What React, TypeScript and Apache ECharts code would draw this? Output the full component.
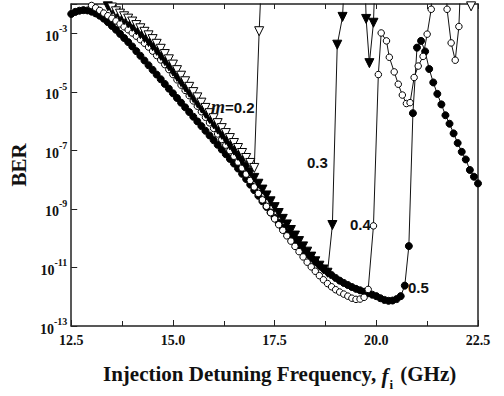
import React, { useEffect, useRef } from "react";
import * as echarts from "echarts";

// BER values stored as log10(BER); frequency in GHz
const m02: [number, number][] = [
  [13.5, -2.12], [13.6, -2.25], [13.7, -2.33], [13.8, -2.42], [13.9, -2.5], [14.0, -2.6],
  [14.1, -2.72], [14.2, -2.83], [14.3, -2.95], [14.4, -3.07], [14.5, -3.2], [14.6, -3.36],
  [14.7, -3.53], [14.8, -3.71], [14.9, -3.89], [15.0, -4.07], [15.1, -4.26], [15.2, -4.45],
  [15.3, -4.64], [15.4, -4.83], [15.5, -5.01], [15.6, -5.19], [15.7, -5.37], [15.8, -5.55],
  [15.9, -5.73], [16.0, -5.9], [16.1, -6.07], [16.2, -6.24], [16.3, -6.41], [16.4, -6.58],
  [16.5, -6.75], [16.6, -6.92], [16.7, -7.09], [16.8, -7.26], [16.9, -7.43], [17.0, -7.6],
  [17.12, -2.93], [17.18, -1.0], [22.25, -1.0], [22.33, -2.08], [22.42, -1.0],
];

const m03: [number, number][] = [
  [13.3, -1.95], [13.4, -2.08], [13.5, -2.2], [13.6, -2.32], [13.7, -2.44], [13.8, -2.55],
  [13.9, -2.66], [14.0, -2.78], [14.1, -2.9], [14.2, -3.03], [14.3, -3.16], [14.4, -3.3],
  [14.5, -3.44], [14.6, -3.6], [14.7, -3.77], [14.8, -3.95], [14.9, -4.13], [15.0, -4.31],
  [15.1, -4.49], [15.2, -4.67], [15.3, -4.85], [15.4, -5.03], [15.5, -5.21], [15.6, -5.39],
  [15.7, -5.57], [15.8, -5.75], [15.9, -5.93], [16.0, -6.11], [16.1, -6.29], [16.2, -6.47],
  [16.3, -6.65], [16.4, -6.83], [16.5, -7.01], [16.6, -7.19], [16.7, -7.37], [16.8, -7.56],
  [16.9, -7.75], [17.0, -7.94], [17.1, -8.14], [17.2, -8.34], [17.3, -8.54], [17.4, -8.74],
  [17.5, -8.94], [17.6, -9.14], [17.7, -9.34], [17.8, -9.53], [17.9, -9.72], [18.0, -9.91],
  [18.1, -10.1], [18.2, -10.28], [18.3, -10.46], [18.4, -10.63], [18.5, -10.79], [18.6, -10.94],
  [18.7, -11.07], [18.8, -11.18], [18.92, -9.55], [19.04, -3.39], [19.17, -2.44], [19.22, -1.0],
  [19.72, -1.0], [19.75, -2.51], [19.83, -4.02], [19.93, -2.64], [19.97, -1.0],
];

const m04: [number, number][] = [
  [12.9, -1.9], [13.0, -2.05], [13.1, -2.13], [13.2, -2.22], [13.3, -2.31], [13.4, -2.4],
  [13.5, -2.49], [13.6, -2.58], [13.7, -2.68], [13.8, -2.78], [13.9, -2.88], [14.0, -2.99],
  [14.1, -3.1], [14.2, -3.22], [14.3, -3.34], [14.4, -3.47], [14.5, -3.61], [14.6, -3.76],
  [14.7, -3.91], [14.8, -4.07], [14.9, -4.24], [15.0, -4.41], [15.1, -4.59], [15.2, -4.77],
  [15.3, -4.95], [15.4, -5.13], [15.5, -5.31], [15.6, -5.49], [15.7, -5.68], [15.8, -5.87],
  [15.9, -6.06], [16.0, -6.25], [16.1, -6.44], [16.2, -6.63], [16.3, -6.82], [16.4, -7.01],
  [16.5, -7.2], [16.6, -7.4], [16.7, -7.6], [16.8, -7.81], [16.9, -8.03], [17.0, -8.25],
  [17.1, -8.47], [17.2, -8.69], [17.3, -8.91], [17.4, -9.13], [17.5, -9.34], [17.6, -9.54],
  [17.7, -9.73], [17.8, -9.92], [17.9, -10.1], [18.0, -10.28], [18.1, -10.46], [18.2, -10.64],
  [18.3, -10.82], [18.4, -10.98], [18.5, -11.13], [18.6, -11.28], [18.7, -11.42], [18.8, -11.55],
  [18.9, -11.66], [19.0, -11.76], [19.1, -11.84], [19.2, -11.91], [19.3, -11.98], [19.4, -12.05],
  [19.5, -12.09], [19.6, -12.08], [19.7, -12.02], [19.8, -11.75], [19.93, -9.58], [20.05, -4.41],
  [20.12, -2.99], [20.25, -3.26], [20.32, -3.82], [20.44, -4.32], [20.54, -4.74], [20.64, -5.11],
  [20.74, -5.4], [20.83, -5.37], [20.93, -4.51], [21.03, -4.12], [21.15, -3.79], [21.25, -3.03],
  [21.35, -2.18], [21.38, -1.0], [21.71, -1.0], [21.74, -2.18], [21.84, -3.33], [21.94, -3.92],
  [22.03, -2.77], [22.08, -1.0],
];

const m05: [number, number][] = [
  [12.5, -2.34], [12.6, -2.27], [12.7, -2.23], [12.8, -2.21], [12.9, -2.22], [13.0, -2.26],
  [13.1, -2.32], [13.2, -2.4], [13.3, -2.5], [13.4, -2.62], [13.5, -2.75], [13.6, -2.88],
  [13.7, -3.02], [13.8, -3.16], [13.9, -3.3], [14.0, -3.45], [14.1, -3.61], [14.2, -3.77],
  [14.3, -3.93], [14.4, -4.09], [14.5, -4.25], [14.6, -4.41], [14.7, -4.57], [14.8, -4.73],
  [14.9, -4.89], [15.0, -5.05], [15.1, -5.21], [15.2, -5.37], [15.3, -5.53], [15.4, -5.69],
  [15.5, -5.85], [15.6, -6.01], [15.7, -6.17], [15.8, -6.33], [15.9, -6.49], [16.0, -6.65],
  [16.1, -6.81], [16.2, -6.97], [16.3, -7.13], [16.4, -7.29], [16.5, -7.45], [16.6, -7.62],
  [16.7, -7.8], [16.8, -7.98], [16.9, -8.17], [17.0, -8.36], [17.1, -8.55], [17.2, -8.74],
  [17.3, -8.93], [17.4, -9.12], [17.5, -9.3], [17.6, -9.47], [17.7, -9.64], [17.8, -9.8],
  [17.9, -9.96], [18.0, -10.11], [18.1, -10.26], [18.2, -10.4], [18.3, -10.54], [18.4, -10.67],
  [18.5, -10.8], [18.6, -10.92], [18.7, -11.04], [18.8, -11.15], [18.9, -11.26], [19.0, -11.36],
  [19.1, -11.45], [19.2, -11.53], [19.3, -11.6], [19.4, -11.67], [19.5, -11.73], [19.6, -11.78],
  [19.7, -11.83], [19.8, -11.88], [19.9, -11.93], [20.0, -11.98], [20.1, -12.05], [20.2, -12.11],
  [20.3, -12.14], [20.4, -12.13], [20.5, -12.08], [20.6, -11.98], [20.7, -11.62], [20.8, -10.27],
  [20.9, -5.73], [21.0, -3.49], [21.1, -3.26], [21.2, -3.62], [21.3, -4.22], [21.4, -4.68],
  [21.5, -5.07], [21.6, -5.43], [21.7, -5.8], [21.8, -6.09], [21.9, -6.42], [22.0, -6.75],
  [22.1, -7.05], [22.2, -7.31], [22.3, -7.67], [22.4, -7.9], [22.5, -8.13],
];

const xTickLabels = ["12.5", "15.0", "17.5", "20.0", "22.5"];
const yExponents = [-13, -11, -9, -7, -5, -3];
const curveLabels = ["m=0.2", "0.3", "0.4", "0.5"];

const toBer = (d: [number, number][]) => d.map(([f, e]) => [f, Math.pow(10, e)]);

const serif = "'Liberation Serif', 'Times New Roman', serif";
const sans = "'Liberation Sans', Arial, sans-serif";
const axisColor = "#222";

export default function App() {
  const ref = useRef<HTMLDivElement>(null);
  useEffect(() => {
    if (!ref.current) return;
    const chart = echarts.init(ref.current, null, { renderer: "svg" });
    const lineStyle = { color: "#111", width: 1 };
    const mk = (name: string, data: [number, number][], symbol: string, filled: boolean, size: number, rotate: number) => ({
      name,
      type: "line",
      data: toBer(data),
      symbol,
      symbolSize: size,
      symbolRotate: rotate,
      showAllSymbol: true,
      clip: true,
      lineStyle,
      itemStyle: { color: filled ? "#000" : "#fff", borderColor: "#000", borderWidth: 1 },
      emphasis: { disabled: true },
    });
    chart.setOption({
      animation: false,
      backgroundColor: "#fff",
      textStyle: { fontFamily: serif },
      grid: { left: 70, right: 26, top: 4, bottom: 58 },
      xAxis: [
        {
          type: "value",
          min: 12.5,
          max: 22.5,
          interval: 2.5,
          axisLine: { lineStyle: { color: axisColor, width: 1.5 } },
          axisTick: { inside: true, length: 6, lineStyle: { color: axisColor, width: 1 } },
          minorTick: { show: true, splitNumber: 2, length: 5, lineStyle: { color: axisColor, width: 1 } },
          splitLine: { show: false },
          axisLabel: {
            margin: 7,
            fontFamily: serif,
            fontWeight: "bold",
            fontSize: 14,
            color: "#111",
            formatter: (v: number) => {
              const s = v.toFixed(1);
              return xTickLabels.includes(s) ? s : "";
            },
          },
          name: "Injection Detuning Frequency, {i|f}{s|i} (GHz)",
          nameLocation: "middle",
          nameGap: 36,
          nameTextStyle: {
            fontFamily: serif,
            fontSize: 21,
            fontWeight: "bold",
            color: "#111",
            padding: [0, 0, 0, 10],
            rich: {
              i: { fontFamily: serif, fontSize: 21, fontWeight: "bold", fontStyle: "italic", color: "#111", verticalAlign: "bottom", lineHeight: 24 },
              s: { fontFamily: serif, fontSize: 13, fontWeight: "bold", color: "#111", verticalAlign: "bottom", lineHeight: 24, padding: [0, 2, -5, 1] },
            },
          },
        },
        {
          type: "value",
          position: "top",
          min: 12.5,
          max: 22.5,
          interval: 2.5,
          axisLine: { show: true, lineStyle: { color: axisColor, width: 1.5 } },
          axisTick: { inside: true, length: 5, lineStyle: { color: axisColor } },
          minorTick: { show: true, splitNumber: 2, length: 5, lineStyle: { color: axisColor } },
          axisLabel: { show: false },
          splitLine: { show: false },
        },
      ],
      yAxis: [
        {
          type: "log",
          logBase: 10,
          min: 1e-13,
          max: 1e-2,
          interval: 2,
          axisLine: { show: true, lineStyle: { color: axisColor, width: 1.5 } },
          axisTick: { inside: true, length: 6, lineStyle: { color: axisColor } },
          splitLine: { show: false },
          axisLabel: {
            margin: 4,
            color: "#111",
            formatter: (v: number) => {
              const e = Math.round(Math.log10(v));
              return yExponents.includes(e) ? `{b|10}{s|${e}}` : "";
            },
            rich: {
              b: { fontFamily: serif, fontWeight: "bold", fontSize: 14, color: "#111", verticalAlign: "bottom", lineHeight: 20 },
              s: { fontFamily: serif, fontWeight: "bold", fontSize: 10, color: "#111", verticalAlign: "top", lineHeight: 20 },
            },
          },
          name: "BER",
          nameLocation: "middle",
          nameRotate: 90,
          nameGap: 42,
          nameTextStyle: { fontFamily: serif, fontWeight: "bold", fontSize: 21, color: "#111" },
        },
        {
          type: "log",
          logBase: 10,
          min: 1e-13,
          max: 1e-2,
          interval: 2,
          position: "right",
          axisLine: { show: true, lineStyle: { color: axisColor, width: 1.5 } },
          axisTick: { show: false },
          axisLabel: { show: false },
          splitLine: { show: false },
        },
      ],
      series: [
        mk("m=0.5", m05, "circle", true, 7, 0),
        mk("m=0.4", m04, "circle", false, 6.5, 0),
        mk("m=0.3", m03, "triangle", true, 9, 180),
        mk("m=0.2", m02, "triangle", false, 9, 180),
      ],
      graphic: [
        {
          type: "text",
          left: 211,
          top: 98,
          z: 100,
          style: {
            text: `{m|m}{n|${curveLabels[0].slice(1)}}`,
            rich: {
              m: { fontFamily: serif, fontStyle: "italic", fontWeight: "bold", fontSize: 18, fill: "#111" },
              n: { fontFamily: sans, fontWeight: "bold", fontSize: 15, fill: "#111" },
            },
          },
        },
        { type: "text", left: 307, top: 155, z: 100, style: { text: curveLabels[1], font: `bold 15px ${sans}`, fill: "#111" } },
        { type: "text", left: 350, top: 217, z: 100, style: { text: curveLabels[2], font: `bold 15px ${sans}`, fill: "#111" } },
        { type: "text", left: 408, top: 280, z: 100, style: { text: curveLabels[3], font: `bold 15px ${sans}`, fill: "#111" } },
      ],
    });
    return () => chart.dispose();
  }, []);
  return <div ref={ref} style={{ width: 504, height: 396, position: "absolute", left: 0, top: 0 }} />;
}
